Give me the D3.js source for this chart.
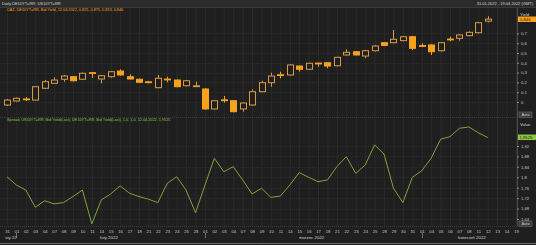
<!DOCTYPE html>
<html>
<head>
<meta charset="utf-8">
<script src="https://cdn.jsdelivr.net/npm/d3@7"></script>
<style>
  html, body { margin: 0; padding: 0; background: #1f1f1f; }
  svg { display: block; font-family: "Liberation Sans", Arial, sans-serif; }
</style>
</head>
<body>
<svg id="chart" width="536" height="245"></svg>
<script>
// trading days shown on the chart
var dates = [
  "2022-01-31",
  "2022-02-01","2022-02-02","2022-02-03","2022-02-04","2022-02-07","2022-02-08","2022-02-09","2022-02-10","2022-02-11",
  "2022-02-14","2022-02-15","2022-02-16","2022-02-17","2022-02-18","2022-02-21","2022-02-22","2022-02-23","2022-02-24",
  "2022-02-25","2022-02-28",
  "2022-03-01","2022-03-02","2022-03-03","2022-03-04","2022-03-07","2022-03-08","2022-03-09","2022-03-10","2022-03-11",
  "2022-03-14","2022-03-15","2022-03-16","2022-03-17","2022-03-18","2022-03-21","2022-03-22","2022-03-23","2022-03-24",
  "2022-03-25","2022-03-28","2022-03-29","2022-03-30","2022-03-31",
  "2022-04-01","2022-04-04","2022-04-05","2022-04-06","2022-04-07","2022-04-08","2022-04-11","2022-04-12"
];
// empty slots on the right of the axis
var futureDates = ["2022-04-13","2022-04-14","2022-04-19"];

// DE10YT=RR bid yield candles
var open  = [-0.031,0.010,0.031,0.020,0.140,0.191,0.232,0.258,0.232,0.299,0.235,0.258,0.316,0.258,0.232,0.206,0.146,0.234,0.224,0.166,0.163,
             0.133,-0.071,0.022,0.013,-0.071,-0.031,0.105,0.197,0.278,0.276,0.367,0.334,0.397,0.401,0.370,0.480,0.513,0.469,0.523,0.605,0.605,0.626,0.666,
             0.576,0.582,0.523,0.642,0.650,0.677,0.707,0.825];
var high  = [0.031,0.045,0.050,0.160,0.224,0.252,0.276,0.265,0.300,0.300,0.275,0.315,0.334,0.283,0.240,0.215,0.276,0.258,0.230,0.225,0.207,
             0.140,0.020,0.061,0.020,-0.005,0.130,0.217,0.299,0.309,0.385,0.372,0.400,0.400,0.405,0.460,0.538,0.520,0.530,0.580,0.610,0.735,0.675,0.675,
             0.600,0.590,0.610,0.666,0.690,0.720,0.815,0.875];
var low   = [-0.041,0.005,0.010,0.015,0.135,0.185,0.207,0.210,0.225,0.245,0.190,0.250,0.270,0.228,0.195,0.190,0.140,0.201,0.150,0.160,0.160,
             -0.078,-0.075,-0.007,-0.105,-0.099,-0.035,0.100,0.156,0.242,0.270,0.309,0.330,0.360,0.344,0.365,0.475,0.475,0.446,0.515,0.570,0.600,0.620,0.531,
             0.560,0.480,0.515,0.620,0.626,0.670,0.700,0.813];
var close = [0.020,0.038,0.030,0.156,0.207,0.224,0.265,0.217,0.293,0.296,0.268,0.309,0.276,0.235,0.201,0.202,0.242,0.230,0.156,0.217,0.165,
             -0.071,0.013,0.018,-0.099,-0.010,0.105,0.197,0.265,0.274,0.378,0.334,0.395,0.393,0.367,0.456,0.507,0.480,0.523,0.571,0.578,0.640,0.666,0.548,
             0.572,0.513,0.605,0.638,0.684,0.711,0.809,0.846];

// US10Y - DE10Y spread
var spread = [1.802,1.770,1.751,1.685,1.710,1.698,1.703,1.726,1.751,1.621,1.713,1.736,1.767,1.739,1.726,1.716,1.703,1.777,1.802,1.751,1.664,
              1.770,1.873,1.821,1.841,1.790,1.736,1.758,1.723,1.728,1.770,1.818,1.800,1.783,1.790,1.841,1.879,1.815,1.847,1.924,1.889,1.758,1.703,1.800,
              1.825,1.873,1.946,1.956,1.988,1.993,1.971,1.9525];

var yieldTicks = [0, 0.1, 0.2, 0.3, 0.4, 0.5, 0.6, 0.7];
var spreadTicks = [1.64, 1.68, 1.72, 1.76, 1.8, 1.84, 1.88, 1.92];
var months = [
  {key: "2022-01", label: "sty 22"},
  {key: "2022-02", label: "luty 2022"},
  {key: "2022-03", label: "marzec 2022"},
  {key: "2022-04", label: "kwiecień 2022"}
];

var headerLeft = "Daily DE10YT=RR; US10YT=RR";
var headerRight = "31.01.2022 - 19.04.2022 (GMT)";
var legendTop = "CAZ, DE10YT=RR, Bid Yield, 12.04.2022, 0,825, 0,875, 0,813, 0,846";
var legendBottom = "Spread, US10YT=RR, Bid Yield(Last), DE10YT=RR, Bid Yield(Last), 1,0, 1,0, 12.04.2022, 1,9525";

var W = 536, H = 245;
var plotRight = 517;
var orange = "#f7a21b", orangeLine = "#d89b45", green = "#7ea33c";

var pl = d3.formatLocale({decimal: ",", thousands: " ", grouping: [3], currency: ["", ""]});
var fmt = pl.format("~f");

var svg = d3.select("#chart");
svg.append("rect").attr("width", W).attr("height", H).attr("fill", "#1f1f1f");

var allDates = dates.concat(futureDates);
var x = d3.scalePoint().domain(allDates).range([7, 516]);
var yTop = d3.scaleLinear().domain([0, 1]).range([102, 4]);
var yBot = d3.scaleLinear().domain([1.64, 1.92]).range([219, 146]);

// header strip
svg.append("rect").attr("x", 0).attr("y", 0).attr("width", W).attr("height", 7).attr("fill", "#2c2c2c");
svg.append("line").attr("x1", 0).attr("x2", W).attr("y1", 7.5).attr("y2", 7.5).attr("stroke", "#3a3a3a");
svg.append("text").attr("x", 2).attr("y", 5).attr("font-size", 4).attr("fill", "#d8d8d8").text(headerLeft);
svg.append("text").attr("x", 533).attr("y", 5).attr("font-size", 4).attr("text-anchor", "end").attr("fill", "#d8d8d8").text(headerRight);

// vertical grid
svg.append("g").selectAll("line").data(allDates).enter().append("line")
  .attr("x1", function(d) { return x(d) + 0.5; })
  .attr("x2", function(d) { return x(d) + 0.5; })
  .attr("y1", 8).attr("y2", 226)
  .attr("stroke", "#2a2a2a");

// horizontal grid
svg.append("g").selectAll("line").data(yieldTicks).enter().append("line")
  .attr("x1", 0).attr("x2", plotRight)
  .attr("y1", function(d) { return Math.round(yTop(d)) + 0.5; })
  .attr("y2", function(d) { return Math.round(yTop(d)) + 0.5; })
  .attr("stroke", "#2d2d2d").attr("stroke-dasharray", "1,1");
svg.append("g").selectAll("line").data(spreadTicks).enter().append("line")
  .attr("x1", 0).attr("x2", plotRight)
  .attr("y1", function(d) { return Math.round(yBot(d)) + 0.5; })
  .attr("y2", function(d) { return Math.round(yBot(d)) + 0.5; })
  .attr("stroke", "#2d2d2d").attr("stroke-dasharray", "1,1");

// panel separator
svg.append("line").attr("x1", 0).attr("x2", W).attr("y1", 117.5).attr("y2", 117.5)
  .attr("stroke", "#3c3c3c").attr("stroke-dasharray", "1,1");

// legends
svg.append("text").attr("x", 7).attr("y", 11).attr("font-size", 3.8).attr("fill", orange).text(legendTop);
svg.append("text").attr("x", 7).attr("y", 121).attr("font-size", 3.8).attr("fill", "#8dc63f").text(legendBottom);

// candles
var candles = dates.map(function(d, i) {
  return {date: d, open: open[i], high: high[i], low: low[i], close: close[i]};
});
var cg = svg.append("g").selectAll("g").data(candles).enter().append("g");
cg.append("line")
  .attr("x1", function(d) { return Math.round(x(d.date)) + 0.5; })
  .attr("x2", function(d) { return Math.round(x(d.date)) + 0.5; })
  .attr("y1", function(d) { return yTop(d.high); })
  .attr("y2", function(d) { return yTop(d.low); })
  .attr("stroke", function(d) { return d.close >= d.open ? orangeLine : orange; });
cg.append("rect")
  .attr("x", function(d) { return Math.round(x(d.date)) - 2.5; })
  .attr("y", function(d) { return yTop(Math.max(d.open, d.close)); })
  .attr("width", 6)
  .attr("height", function(d) { return Math.max(0.8, Math.abs(yTop(d.open) - yTop(d.close))); })
  .attr("fill", function(d) { return d.close >= d.open ? "#1f1f1f" : orange; })
  .attr("stroke", function(d) { return d.close >= d.open ? orangeLine : orange; })
  .attr("stroke-width", 1);

// spread line
var line = d3.line()
  .x(function(d, i) { return x(dates[i]); })
  .y(function(d) { return yBot(d); });
svg.append("path").datum(spread).attr("d", line)
  .attr("fill", "none").attr("stroke", green).attr("stroke-width", 1);

// right axis panel
svg.append("rect").attr("x", plotRight).attr("y", 8).attr("width", W - plotRight).attr("height", 218).attr("fill", "#1f1f1f");
svg.append("line").attr("x1", plotRight + 0.5).attr("x2", plotRight + 0.5).attr("y1", 8).attr("y2", 226).attr("stroke", "#4a4a4a");

var axTop = svg.append("g").attr("transform", "translate(" + plotRight + ",0)")
  .call(d3.axisRight(yTop).tickValues(yieldTicks).tickSize(2).tickPadding(2).tickFormat(fmt));
var axBot = svg.append("g").attr("transform", "translate(" + plotRight + ",0)")
  .call(d3.axisRight(yBot).tickValues(spreadTicks).tickSize(2).tickPadding(2).tickFormat(fmt));
[axTop, axBot].forEach(function(a) {
  a.select(".domain").remove();
  a.selectAll(".tick line").attr("stroke", "#888");
  a.selectAll(".tick text").attr("fill", "#c8c8c8").attr("font-size", 4.2).attr("font-family", "Liberation Sans, Arial, sans-serif");
});

svg.append("text").attr("x", 520).attr("y", 15.5).attr("font-size", 4.2).attr("fill", "#d0d0d0").text("Yield");
svg.append("rect").attr("x", 518).attr("y", 16.5).attr("width", 18).attr("height", 5.5).attr("fill", orange);
svg.append("text").attr("x", 520).attr("y", 21).attr("font-size", 4.2).attr("fill", "#1a1a1a").text(fmt(close[close.length - 1]));

svg.append("text").attr("x", 520).attr("y", 125.5).attr("font-size", 4.2).attr("fill", "#d0d0d0").text("Value");
svg.append("rect").attr("x", 518).attr("y", yBot(spread[spread.length - 1]) - 3).attr("width", 18).attr("height", 5.5).attr("fill", "#8dc63f");
svg.append("text").attr("x", 519.5).attr("y", yBot(spread[spread.length - 1]) + 1.5).attr("font-size", 4.2).attr("fill", "#1a1a1a").text(fmt(spread[spread.length - 1]));

[115, 224].forEach(function(yy) {
  svg.append("rect").attr("x", 519).attr("y", yy - 3).attr("width", 13).attr("height", 5.5)
    .attr("fill", "#3a3a3a").attr("stroke", "#777").attr("stroke-width", 0.5);
  svg.append("text").attr("x", 525.5).attr("y", yy + 1.3).attr("font-size", 4).attr("text-anchor", "middle").attr("fill", "#d0d0d0").text("Auto");
});

// bottom date axis
svg.append("line").attr("x1", 0).attr("x2", plotRight).attr("y1", 226.5).attr("y2", 226.5).attr("stroke", "#3c3c3c").attr("stroke-dasharray", "1,1");
var parse = d3.timeParse("%Y-%m-%d");
var axX = svg.append("g").attr("transform", "translate(0,227)")
  .call(d3.axisBottom(x).tickSize(0).tickPadding(3).tickFormat(function(d) { return d3.timeFormat("%d")(parse(d)); }));
axX.select(".domain").remove();
axX.selectAll(".tick text").attr("fill", "#c8c8c8").attr("font-size", 4.2).attr("font-family", "Liberation Sans, Arial, sans-serif");

months.forEach(function(m, i) {
  var inMonth = allDates.filter(function(d) { return d.slice(0, 7) === m.key; });
  var x0 = x(inMonth[0]), x1 = x(inMonth[inMonth.length - 1]);
  var t = svg.append("text").attr("y", 239).attr("font-size", 4.4).attr("fill", "#d0d0d0").text(m.label);
  if (i === 0) {
    t.attr("x", x0 - 2).attr("text-anchor", "start");
  } else {
    t.attr("x", (x0 + x1) / 2 + 3).attr("text-anchor", "middle");
    svg.append("line").attr("x1", Math.round(x0) + 0.5).attr("x2", Math.round(x0) + 0.5)
      .attr("y1", 233).attr("y2", 238).attr("stroke", "#aaa").attr("stroke-width", 0.6);
  }
});

// outer frame
svg.append("line").attr("x1", 0).attr("x2", W).attr("y1", 243.5).attr("y2", 243.5).attr("stroke", "#6a6a6a");
</script>
</body>
</html>
